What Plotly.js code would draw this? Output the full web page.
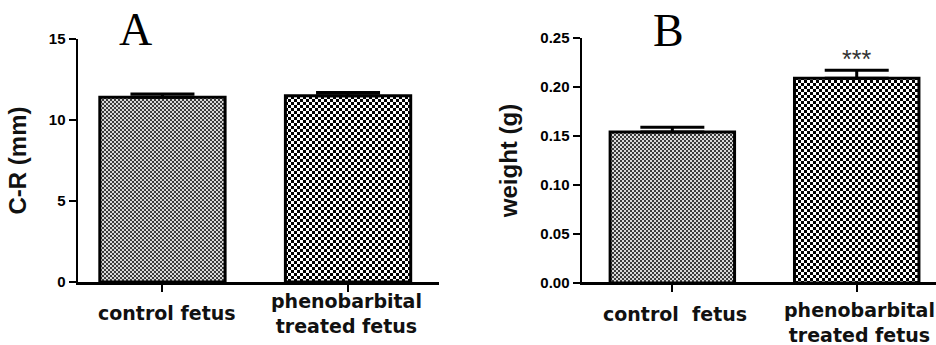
<!DOCTYPE html>
<html>
<head>
<meta charset="utf-8">
<script src="https://cdn.plot.ly/plotly-3.0.1.min.js"></script>
<style>html,body{margin:0;padding:0;background:#fff;}#chart{width:936px;height:345px;}</style>
</head>
<body>
<div id="chart"></div>
<script>
// ---- data ----
const catsA = ['control fetus', 'phenobarbital treated fetus'];
const labelsA = ['control fetus', 'phenobarbital<br>treated fetus'];
const crMean = [11.4, 11.5];
const crSem = [0.2, 0.2];
const yTicksA = [0, 5, 10, 15];

const catsB = ['control  fetus', 'phenobarbital treated fetus'];
const labelsB = ['control  fetus', 'phenobarbital<br>treated fetus'];
const weightMean = [0.154, 0.209];
const weightSem = [0.005, 0.008];
const yTicksB = [0, 0.05, 0.10, 0.15, 0.20, 0.25];
const sigB = ['', '***'];

const panelTitles = ['A', 'B'];
const yTitles = ['C-R (mm)', 'weight (g)'];

// ---- styles ----
const numFont = {family: 'Liberation Sans, Arial, sans-serif', size: 15, color: '#000', weight: 700};
const titleFont = {family: 'Liberation Sans, Arial, sans-serif', size: 24, color: '#111', weight: 700};
const catFont = {family: 'DejaVu Sans, Liberation Sans, sans-serif', size: 19, color: '#111', weight: 700};
const panelFont = {family: 'Liberation Serif, Times New Roman, serif', size: 46, color: '#000'};

function barTrace(x, y, err, xa, ya) {
  return {
    type: 'bar', x: x, y: y, xaxis: xa, yaxis: ya, width: 0.675,
    marker: {
      color: '#ffffff',
      line: {color: '#000', width: 3},
      pattern: {shape: ['.', '.'], size: [4, 6], solidity: [0.5, 0.5],
                fgcolor: ['#404040', '#000000'], bgcolor: ['#d8d8d8', '#ffffff'], fillmode: 'replace'}
    },
    error_y: {type: 'data', symmetric: false, array: err, arrayminus: err.map(() => 0),
              color: '#000', thickness: 3, width: 32},
    hoverinfo: 'none'
  };
}

const data = [
  barTrace(catsA, crMean, crSem, 'x', 'y'),
  barTrace(catsB, weightMean, weightSem, 'x2', 'y2')
];

function xAxis(domain, range) {
  return {domain: domain, type: 'category', range: range, showline: true, linecolor: '#000', linewidth: 2.5,
          ticks: 'outside', ticklen: 7, tickwidth: 2, tickcolor: '#000', showticklabels: false,
          showgrid: false, zeroline: false, fixedrange: true};
}
function yAxis(domain, range, tickvals, fmt, title, anchor) {
  return {domain: domain, range: range, anchor: anchor, showline: true, linecolor: '#000', linewidth: 2.5,
          ticks: 'outside', ticklen: 7, tickwidth: 2, tickcolor: '#000',
          tickvals: tickvals, tickformat: fmt, tickfont: Object.assign({}, numFont),
          showgrid: false, zeroline: false, fixedrange: true,
          title: {text: title, font: Object.assign({}, titleFont), standoff: 16}};
}

const annotations = [];
annotations.push({xref: 'paper', yref: 'paper', x: 135/936, y: (345-29)/345, text: panelTitles[0],
  showarrow: false, font: panelFont, xanchor: 'center', yanchor: 'middle'});
annotations.push({xref: 'paper', yref: 'paper', x: 668/936, y: (345-30)/345, text: panelTitles[1],
  showarrow: false, font: panelFont, xanchor: 'center', yanchor: 'middle'});
// category labels
const labYA = [(345-313)/345, (345-313.5)/345];
const labYB = [(345-313.5)/345, (345-322.5)/345];
labelsA.forEach((t, i) => annotations.push({xref: 'x', yref: 'paper', x: i, y: labYA[i], text: t,
  showarrow: false, font: catFont, xanchor: 'center', yanchor: 'middle', xshift: i === 0 ? 5 : -2}));
labelsB.forEach((t, i) => annotations.push({xref: 'x2', yref: 'paper', x: i, y: labYB[i], text: t,
  showarrow: false, font: catFont, xanchor: 'center', yanchor: 'middle', xshift: 3}));
// significance
sigB.forEach((s, i) => { if (s) annotations.push({xref: 'x2', yref: 'y2', x: i, y: weightMean[i] + weightSem[i],
  text: s, showarrow: false, font: {family: 'Liberation Sans, Arial, sans-serif', size: 25, color: '#333'},
  xanchor: 'center', yanchor: 'bottom', yshift: -5}); });

const layout = {
  width: 936, height: 345, margin: {l: 0, r: 0, t: 0, b: 0},
  paper_bgcolor: '#fff', plot_bgcolor: 'rgba(0,0,0,0)', showlegend: false,
  xaxis: xAxis([78/936, 439/936], [-0.455, 1.49]),
  yaxis: yAxis([(345-282)/345, (345-39)/345], [0, 15], yTicksA, '', yTitles[0], 'x'),
  xaxis2: xAxis([582/936, 1], [-0.49, 1.43]),
  yaxis2: yAxis([(345-283)/345, (345-38)/345], [0, 0.25], yTicksB, '.2f', yTitles[1], 'x2'),
  annotations: annotations,
  bargap: 0.3
};

function checker(pat, size, dark, light) {
  const ns = 'http://www.w3.org/2000/svg';
  pat.setAttribute('width', size);
  pat.setAttribute('height', size);
  while (pat.firstChild) pat.removeChild(pat.firstChild);
  const h = size / 2;
  const mk = (x, y, w, c) => {
    const r = document.createElementNS(ns, 'rect');
    r.setAttribute('x', x); r.setAttribute('y', y);
    r.setAttribute('width', w); r.setAttribute('height', w);
    r.setAttribute('fill', c);
    r.setAttribute('shape-rendering', 'crispEdges');
    pat.appendChild(r);
  };
  mk(0, 0, size, light);
  mk(0, 0, h, dark);
  mk(h, h, h, dark);
}

const gd = document.getElementById('chart');
Plotly.newPlot(gd, data, layout, {displayModeBar: false, staticPlot: true}).then(() => {
  gd.querySelectorAll('g.trace.bars').forEach(tr => {
    tr.querySelectorAll('g.point path').forEach((p, k) => {
      const f = p.style.fill || p.getAttribute('fill') || '';
      const m = f.match(/#([^"')\s]+)/);
      if (!m) return;
      const pat = document.getElementById(m[1]);
      if (!pat) return;
      if (k === 0) checker(pat, 4, '#3c3c3c', '#dadada');
      else checker(pat, 6, '#000000', '#ffffff');
    });
  });
});
</script>
</body>
</html>
